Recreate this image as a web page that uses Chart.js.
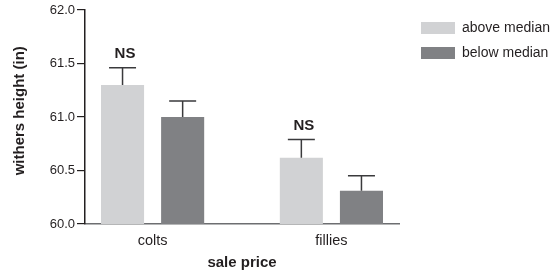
<!DOCTYPE html>
<html><head><meta charset="utf-8">
<script src="https://cdn.jsdelivr.net/npm/chart.js@4/dist/chart.umd.min.js"></script>
<style>html,body{margin:0;padding:0;background:#fff;}</style>
</head><body>
<canvas id="c" width="559" height="274"></canvas>
<script>
// ---- data ----
const categories = ['colts', 'fillies'];
const seriesNames = ['above median', 'below median'];
const aboveMedian = [61.30, 60.62];
const belowMedian = [61.00, 60.31];
const aboveErr = [0.16, 0.17];
const belowErr = [0.15, 0.14];
const significance = ['NS', 'NS'];
const yTickValues = [60.0, 60.5, 61.0, 61.5, 62.0];

const FONT = '"Liberation Sans", Arial, Helvetica, sans-serif';
const TXT = '#231f20';
Chart.defaults.font.family = FONT;
Chart.defaults.color = TXT;

const errorBars = {
  id: 'errorBars',
  afterDatasetsDraw(chart) {
    const ctx = chart.ctx;
    const y = chart.scales.y;
    chart.data.datasets.forEach((ds, di) => {
      const meta = chart.getDatasetMeta(di);
      meta.data.forEach((bar, i) => {
        const v = ds.data[i].y, e = ds.err[i];
        const top = y.getPixelForValue(v + e);
        ctx.save();
        ctx.strokeStyle = '#3a3a3c';
        ctx.lineWidth = 1.5;
        ctx.beginPath();
        ctx.moveTo(bar.x, bar.y);
        ctx.lineTo(bar.x, top);
        ctx.moveTo(bar.x - 13.5, top);
        ctx.lineTo(bar.x + 13.5, top);
        ctx.stroke();
        if (ds.sig && ds.sig[i]) {
          ctx.fillStyle = TXT;
          ctx.font = 'bold 15px ' + FONT;
          ctx.textAlign = 'center';
          ctx.textBaseline = 'alphabetic';
          ctx.fillText(ds.sig[i], bar.x + 2.5, top - 9.5);
        }
        ctx.restore();
      });
    });
  }
};

new Chart(document.getElementById('c'), {
  type: 'bar',
  data: {
    datasets: [
      { label: seriesNames[0], data: aboveMedian.map((v, i) => ({x: i, y: v})), err: aboveErr, sig: significance,
        backgroundColor: '#d1d2d4', borderWidth: 0, categoryPercentage: 0.6723, barPercentage: 0.7167 },
      { label: seriesNames[1], data: belowMedian.map((v, i) => ({x: i, y: v})), err: belowErr,
        backgroundColor: '#808184', borderWidth: 0, categoryPercentage: 0.6723, barPercentage: 0.7167 }
    ]
  },
  options: {
    responsive: false,
    animation: false,
    layout: { padding: { top: 10, right: 0, bottom: 0, left: 0 } },
    plugins: {
      legend: {
        position: 'right', align: 'start', maxWidth: 149,
        labels: { boxWidth: 34, boxHeight: 12, padding: 11, color: TXT, font: { size: 14 } }
      },
      tooltip: { enabled: false }
    },
    scales: {
      x: {
        type: 'linear', min: -0.378, max: 1.378, offset: false,
        afterBuildTicks: s => { s.ticks = categories.map((c, i) => ({ value: i })); },
        ticks: { callback: v => categories[v] ?? '', font: { size: 14.5 }, color: TXT, padding: 8 },
        grid: { display: false, drawTicks: false, offset: false },
        border: { display: true, color: '#6d6e71', width: 1.5 },
        title: { display: true, text: 'sale price', color: TXT, font: { size: 15, weight: 'bold' }, padding: { top: 4, bottom: 2.5 } },
        afterFit: s => { s.height = 50; }
      },
      y: {
        min: 60, max: 62,
        afterBuildTicks: s => { s.ticks = yTickValues.map(v => ({ value: v })); },
        ticks: { callback: v => Number(v).toFixed(1), font: { size: 13 }, color: TXT, padding: 2 },
        grid: { drawOnChartArea: false, drawTicks: true, tickLength: 8, color: TXT, lineWidth: 1.2 },
        border: { display: true, color: TXT, width: 1.5 },
        title: { display: true, text: '   withers height (in)', color: TXT, font: { size: 15, weight: 'bold' }, padding: { top: 10.5, bottom: 0 } },
        afterFit: s => { s.width = 85; s.paddingTop = 3.5; s.paddingBottom = 0; }
      },
      gap: {
        type: 'linear', position: 'right', display: true,
        grid: { display: false }, border: { display: false }, ticks: { display: false },
        afterFit: s => { s.width = 11; s.paddingTop = 0; s.paddingBottom = 0; }
      }
    }
  },
  plugins: [errorBars]
});
</script>
</body></html>
